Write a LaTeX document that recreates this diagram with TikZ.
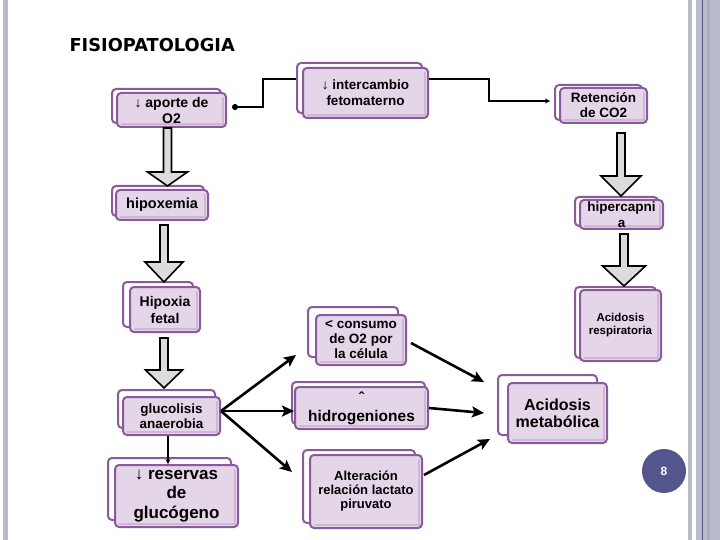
\documentclass[tikz,border=0pt]{standalone}
\usepackage{fontspec}
\setmainfont{Liberation Sans}
\newfontfamily\titlefont{DejaVu Sans}
\usetikzlibrary{shadows,arrows.meta,calc}
\definecolor{pbc}{HTML}{8B5A9A}
\definecolor{pbf}{HTML}{E4D5E9}
\definecolor{pbin}{HTML}{CDB9D5}
\definecolor{barc}{HTML}{BABACB}
\definecolor{bard}{HTML}{ADADC0}
\definecolor{barline}{HTML}{55558A}
\definecolor{numc}{HTML}{55558E}
\definecolor{arrg}{HTML}{DCDCDC}
\newcommand\fs[2]{\fontsize{#1}{#2}\selectfont}
\newcommand\thinarrow{{\mdseries ↓}}
\tikzset{
  pbox/.style n args={4}{draw=pbc, fill=pbf, line width=2pt, rounded corners=4pt,
    minimum width=#1pt, minimum height=#2pt, inner sep=0pt, align=center,
    text=black, font=\bfseries\fs{13.5}{15},
    copy shadow={shadow xshift=#3pt, shadow yshift=#4pt, draw=pbc, fill=white, line width=2pt},
    path picture={\draw[pbin, line width=1.6pt, sharp corners]
      ([xshift=-3pt,yshift=-4pt]path picture bounding box.north east) --
      ([xshift=-3pt,yshift=3pt]path picture bounding box.south east) --
      ([xshift=4pt,yshift=3pt]path picture bounding box.south west);}},
  barr/.style={draw=black, fill=arrg, line width=1.6pt, line join=miter},
  bigarr/.style={draw=black, line width=2.6pt, -{Stealth[length=12pt,width=11pt,inset=2.5pt]}},
  smallarr/.style={draw=black, line width=1.2pt, -{Stealth[length=5pt,width=5pt]}},
  conn/.style={draw=black, line width=1.5pt, {Circle[length=6pt]}-{Stealth[length=5pt,width=5pt]}},
}
% #1 x, #2 from node anchor, #3 start offset, #4 to node anchor, #5 tip offset, #6 head length, #7 head half width
\newcommand\blockarr[7]{%
  \draw[barr] let \p1=(#1,0 |- #2), \p2=(#1,0 |- #4) in
    (\x1-4pt,\y1-#3pt) -- (\x1-4pt,\y2+#5pt+#6pt) -- (\x1-#7pt,\y2+#5pt+#6pt) --
    (\x1,\y2+#5pt) -- (\x1+#7pt,\y2+#5pt+#6pt) -- (\x1+4pt,\y2+#5pt+#6pt) --
    (\x1+4pt,\y1-#3pt) -- cycle;}
\begin{document}
\begin{tikzpicture}[x=1pt,y=-1pt]
\useasboundingbox (0,0) rectangle (720,540);
\fill[white] (0,0) rectangle (720,540);
% side bars
\fill[barc] (3,0) rectangle (7.5,540);
\fill[barc] (688,0) rectangle (692,540);
\fill[barc] (696,0) rectangle (720,540);
\fill[bard] (707,0) rectangle (710,540);
\draw[barline, line width=1pt] (702.5,0) -- (702.5,540);

\node[anchor=base west, font=\titlefont\bfseries\fs{17.8}{20}] (title) at (66,52) {FISIOPATOLOGIA};

% elbow connector (drawn first, passes behind the middle box)
\coordinate (k1) at (263,79);
\coordinate (k2) at (489,79);
\node[pbox={109}{34}{-5}{4}, font=\bfseries\fs{14}{16}] (aporte) at (171.5,110) {\thinarrow\ aporte de\\O2};
\node[pbox={87}{35}{-5}{3}] (retencion) at (603.5,105.5) {Retención\\de CO2};
\draw[conn] ([xshift=5pt,yshift=3pt]aporte.east) -| (k1) -- (k2) |- ([xshift=-9pt,yshift=4.5pt]retencion.west);

\node[pbox={125}{50}{-6}{5}, font=\bfseries\fs{13.5}{16}] (interc) at (365.5,93) {\thinarrow\ intercambio\\fetomaterno};
\node[pbox={92}{30}{-4}{4}, font=\bfseries\fs{14.5}{16}] (hipoxemia) at (162,205) {hipoxemia};
\node[pbox={83}{29}{-5}{3}, font=\bfseries\fs{13.5}{16}] (hipercap) at (621.5,214.5) {hipercapni\\a};
\node[pbox={70}{45}{-7}{5}, font=\bfseries\fs{14}{17}] (hipoxia) at (165,309.5) {Hipoxia\\fetal};
\node[pbox={81}{71}{-5}{3}, font=\bfseries\fs{11.5}{13}] (acresp) at (620.5,325.5) {Acidosis\\respiratoria};
\node[pbox={90}{50}{-8}{8}] (consumo) at (361,340) {< consumo\\de O2 por\\la célula};
\node[pbox={97}{38}{-5}{7}] (gluco) at (171.5,416) {glucolisis\\anaerobia};
\node[pbox={133}{42}{-3}{5}, font=\bfseries\fs{15.5}{18}] (hidro) at (361.5,408) {ˆ\\hidrogeniones};
\node[pbox={99}{60}{-10}{8}, font=\bfseries\fs{16}{17}] (acmet) at (557.5,413) {Acidosis\\metabólica};
\node[pbox={123}{62}{-7}{7}, font=\bfseries\fs{17}{19.5}] (reservas) at (176.5,496) {\thinarrow\ reservas\\de\\glucógeno};
\node[pbox={112}{73}{-7}{5}, font=\bfseries\fs{13}{14}] (alter) at (366,491.5) {Alteración\\relación lactato\\piruvato};

% block arrows
\blockarr{167.5}{aporte.south}{0}{hipoxemia.north}{3}{14}{20}
\blockarr{164}{hipoxemia.south}{4}{hipoxia.north}{4}{20}{19}
\blockarr{164}{hipoxia.south}{5}{gluco.north}{8}{18}{18.5}
\blockarr{621}{retencion.south}{9}{hipercap.north}{3}{20}{20}
\blockarr{624}{hipercap.south}{4}{acresp.north}{3}{20}{21.5}

% arrows from glucolisis
\coordinate (gs) at ([yshift=5pt]gluco.east);
\draw[bigarr] (gs) -- ([xshift=-19pt,yshift=-15pt]consumo.west);
\draw[bigarr] (gs) -- (gs -| hidro.west);
\draw[bigarr] (gs) -- ([xshift=-17pt,yshift=19.5pt]alter.west);
\draw[smallarr] (168,0 |- gluco.south) -- (168,0 |- reservas.north);

% arrows to acidosis metabolica
\draw[bigarr] ([xshift=4pt,yshift=-3pt]consumo.east) -- ([xshift=-23pt,yshift=31pt]acmet.west);
\draw[bigarr] (hidro.east) -- ([xshift=-23pt]acmet.west);
\draw[bigarr] ([xshift=1pt,yshift=16.5pt]alter.east) -- ([xshift=-17pt,yshift=-26pt]acmet.west);

\node[circle, fill=numc, minimum size=44pt, inner sep=0pt, text=white, font=\bfseries\fs{12}{12}] (pg) at (664,471) {8};
\end{tikzpicture}
\end{document}
